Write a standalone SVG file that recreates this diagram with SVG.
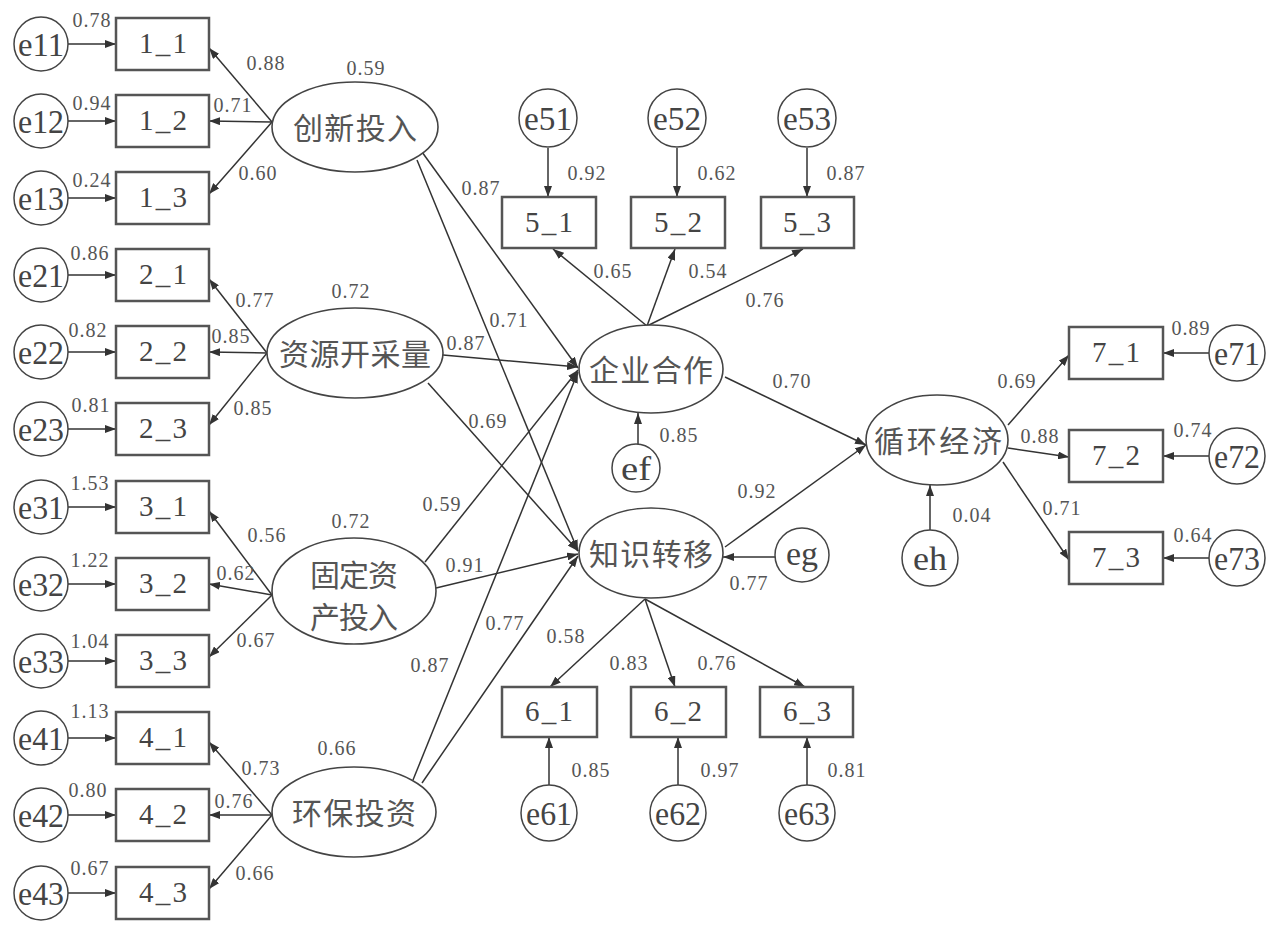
<svg xmlns="http://www.w3.org/2000/svg" width="1282" height="929" viewBox="0 0 1282 929">
<defs>
<marker id="ah" viewBox="0 0 11 8" refX="11" refY="4" markerWidth="11" markerHeight="8" markerUnits="userSpaceOnUse" orient="auto"><path d="M0,0 L11,4 L0,8 z" fill="#333"/></marker>
<style>
.ln{stroke:#333;stroke-width:1.5;fill:none;marker-end:url(#ah)}
.box{fill:#fff;stroke:#555;stroke-width:2.5}
.ell{fill:#fff;stroke:#444;stroke-width:1.6}
.cir{fill:#fff;stroke:#444;stroke-width:1.5}
.num{font-family:"Liberation Serif","Times New Roman","DejaVu Serif",serif;font-size:20px;fill:#555;text-anchor:middle;letter-spacing:1px}
.bl{font-family:"Liberation Serif","Times New Roman","DejaVu Serif",serif;font-size:29px;fill:#444;text-anchor:middle}
.el{font-family:"Liberation Serif","Times New Roman","DejaVu Serif",serif;font-size:34px;fill:#444;text-anchor:middle}
.cjk{font-family:"Noto Sans CJK SC",sans-serif;font-size:30px;fill:#555;text-anchor:middle}
</style>
</defs>
<rect width="1282" height="929" fill="#fff"/>

<g id="connectors">
<line class="ln" x1="68" y1="44" x2="116" y2="44"/>
<line class="ln" x1="68" y1="121" x2="116" y2="121"/>
<line class="ln" x1="68" y1="198" x2="116" y2="198"/>
<line class="ln" x1="68" y1="275" x2="116" y2="275"/>
<line class="ln" x1="68" y1="352" x2="116" y2="352"/>
<line class="ln" x1="68" y1="429" x2="116" y2="429"/>
<line class="ln" x1="68" y1="507" x2="116" y2="507"/>
<line class="ln" x1="68" y1="584" x2="116" y2="584"/>
<line class="ln" x1="68" y1="661" x2="116" y2="661"/>
<line class="ln" x1="68" y1="738" x2="116" y2="738"/>
<line class="ln" x1="68" y1="815" x2="116" y2="815"/>
<line class="ln" x1="68" y1="893" x2="116" y2="893"/>
<line class="ln" x1="272" y1="122" x2="209" y2="48"/>
<line class="ln" x1="272" y1="122" x2="209" y2="121"/>
<line class="ln" x1="272" y1="122" x2="209" y2="194"/>
<line class="ln" x1="267" y1="353" x2="209" y2="279"/>
<line class="ln" x1="267" y1="353" x2="209" y2="352"/>
<line class="ln" x1="267" y1="353" x2="209" y2="425"/>
<line class="ln" x1="272" y1="595" x2="209" y2="511"/>
<line class="ln" x1="272" y1="595" x2="209" y2="584"/>
<line class="ln" x1="272" y1="595" x2="209" y2="657"/>
<line class="ln" x1="272" y1="815" x2="209" y2="742"/>
<line class="ln" x1="272" y1="815" x2="209" y2="815"/>
<line class="ln" x1="272" y1="815" x2="209" y2="889"/>
<line class="ln" x1="422" y1="152" x2="578" y2="368"/>
<line class="ln" x1="417" y1="160" x2="578" y2="551"/>
<line class="ln" x1="443" y1="355" x2="578" y2="367"/>
<line class="ln" x1="428" y1="383" x2="578" y2="551"/>
<line class="ln" x1="425" y1="562" x2="578" y2="370"/>
<line class="ln" x1="436" y1="588" x2="578" y2="554"/>
<line class="ln" x1="413" y1="780" x2="578" y2="372"/>
<line class="ln" x1="422" y1="783" x2="578" y2="556"/>
<line class="ln" x1="725" y1="377" x2="866" y2="445"/>
<line class="ln" x1="725" y1="547" x2="866" y2="445"/>
<line class="ln" x1="638" y1="444" x2="638" y2="413"/>
<line class="ln" x1="775" y1="557" x2="723" y2="557"/>
<line class="ln" x1="930" y1="530" x2="930" y2="485"/>
<line class="ln" x1="548" y1="148" x2="548" y2="197"/>
<line class="ln" x1="677" y1="148" x2="677" y2="197"/>
<line class="ln" x1="807" y1="148" x2="807" y2="197"/>
<line class="ln" x1="647" y1="326" x2="553" y2="249"/>
<line class="ln" x1="647" y1="326" x2="675" y2="249"/>
<line class="ln" x1="647" y1="326" x2="803" y2="249"/>
<line class="ln" x1="645" y1="599" x2="550" y2="687"/>
<line class="ln" x1="645" y1="599" x2="675" y2="687"/>
<line class="ln" x1="645" y1="599" x2="805" y2="687"/>
<line class="ln" x1="549" y1="785" x2="549" y2="737"/>
<line class="ln" x1="678" y1="785" x2="678" y2="737"/>
<line class="ln" x1="807" y1="785" x2="807" y2="737"/>
<line class="ln" x1="1008" y1="425" x2="1069" y2="355"/>
<line class="ln" x1="1008" y1="448" x2="1069" y2="457"/>
<line class="ln" x1="1003" y1="462" x2="1069" y2="560"/>
<line class="ln" x1="1209" y1="353" x2="1163" y2="353"/>
<line class="ln" x1="1209" y1="456" x2="1163" y2="456"/>
<line class="ln" x1="1209" y1="558" x2="1163" y2="558"/>
</g>

<g id="labels">
<text class="num" x="92" y="27">0.78</text>
<text class="num" x="92" y="110">0.94</text>
<text class="num" x="92" y="187">0.24</text>
<text class="num" x="90" y="260">0.86</text>
<text class="num" x="88" y="337">0.82</text>
<text class="num" x="91" y="412">0.81</text>
<text class="num" x="90" y="490">1.53</text>
<text class="num" x="90" y="567">1.22</text>
<text class="num" x="90" y="648">1.04</text>
<text class="num" x="90" y="718">1.13</text>
<text class="num" x="88" y="797">0.80</text>
<text class="num" x="90" y="875">0.67</text>
<text class="num" x="266" y="70">0.88</text>
<text class="num" x="233" y="112">0.71</text>
<text class="num" x="258" y="180">0.60</text>
<text class="num" x="366" y="75">0.59</text>
<text class="num" x="255" y="307">0.77</text>
<text class="num" x="231" y="343">0.85</text>
<text class="num" x="253" y="415">0.85</text>
<text class="num" x="351" y="298">0.72</text>
<text class="num" x="267" y="542">0.56</text>
<text class="num" x="236" y="580">0.62</text>
<text class="num" x="256" y="647">0.67</text>
<text class="num" x="351" y="528">0.72</text>
<text class="num" x="261" y="775">0.73</text>
<text class="num" x="234" y="808">0.76</text>
<text class="num" x="255" y="880">0.66</text>
<text class="num" x="337" y="755">0.66</text>
<text class="num" x="481" y="195">0.87</text>
<text class="num" x="509" y="327">0.71</text>
<text class="num" x="466" y="350">0.87</text>
<text class="num" x="488" y="428">0.69</text>
<text class="num" x="442" y="511">0.59</text>
<text class="num" x="465" y="572">0.91</text>
<text class="num" x="430" y="672">0.87</text>
<text class="num" x="505" y="630">0.77</text>
<text class="num" x="587" y="180">0.92</text>
<text class="num" x="717" y="180">0.62</text>
<text class="num" x="846" y="180">0.87</text>
<text class="num" x="613" y="278">0.65</text>
<text class="num" x="708" y="278">0.54</text>
<text class="num" x="765" y="307">0.76</text>
<text class="num" x="679" y="442">0.85</text>
<text class="num" x="792" y="388">0.70</text>
<text class="num" x="757" y="498">0.92</text>
<text class="num" x="749" y="590">0.77</text>
<text class="num" x="566" y="643">0.58</text>
<text class="num" x="629" y="670">0.83</text>
<text class="num" x="717" y="670">0.76</text>
<text class="num" x="591" y="777">0.85</text>
<text class="num" x="720" y="777">0.97</text>
<text class="num" x="847" y="777">0.81</text>
<text class="num" x="972" y="522">0.04</text>
<text class="num" x="1017" y="388">0.69</text>
<text class="num" x="1040" y="443">0.88</text>
<text class="num" x="1062" y="515">0.71</text>
<text class="num" x="1191" y="335">0.89</text>
<text class="num" x="1193" y="437">0.74</text>
<text class="num" x="1193" y="542">0.64</text>
</g>

<g id="e11"><circle class="cir" cx="41" cy="44" r="27"/><text class="el" x="41" y="56" textLength="46" lengthAdjust="spacingAndGlyphs">e11</text></g>
<g id="e12"><circle class="cir" cx="41" cy="121" r="27"/><text class="el" x="41" y="133" textLength="46" lengthAdjust="spacingAndGlyphs">e12</text></g>
<g id="e13"><circle class="cir" cx="41" cy="198" r="27"/><text class="el" x="41" y="210" textLength="46" lengthAdjust="spacingAndGlyphs">e13</text></g>
<g id="e21"><circle class="cir" cx="41" cy="275" r="27"/><text class="el" x="41" y="287" textLength="46" lengthAdjust="spacingAndGlyphs">e21</text></g>
<g id="e22"><circle class="cir" cx="41" cy="352" r="27"/><text class="el" x="41" y="364" textLength="46" lengthAdjust="spacingAndGlyphs">e22</text></g>
<g id="e23"><circle class="cir" cx="41" cy="429" r="27"/><text class="el" x="41" y="441" textLength="46" lengthAdjust="spacingAndGlyphs">e23</text></g>
<g id="e31"><circle class="cir" cx="41" cy="507" r="27"/><text class="el" x="41" y="519" textLength="46" lengthAdjust="spacingAndGlyphs">e31</text></g>
<g id="e32"><circle class="cir" cx="41" cy="584" r="27"/><text class="el" x="41" y="596" textLength="46" lengthAdjust="spacingAndGlyphs">e32</text></g>
<g id="e33"><circle class="cir" cx="41" cy="661" r="27"/><text class="el" x="41" y="673" textLength="46" lengthAdjust="spacingAndGlyphs">e33</text></g>
<g id="e41"><circle class="cir" cx="41" cy="738" r="27"/><text class="el" x="41" y="750" textLength="46" lengthAdjust="spacingAndGlyphs">e41</text></g>
<g id="e42"><circle class="cir" cx="41" cy="815" r="27"/><text class="el" x="41" y="827" textLength="46" lengthAdjust="spacingAndGlyphs">e42</text></g>
<g id="e43"><circle class="cir" cx="41" cy="893" r="27"/><text class="el" x="41" y="905" textLength="46" lengthAdjust="spacingAndGlyphs">e43</text></g>

<g id="b1_1"><rect class="box" x="116" y="18" width="93" height="52"/><text class="bl" x="163" y="53" textLength="48">1_1</text></g>
<g id="b1_2"><rect class="box" x="116" y="95" width="93" height="52"/><text class="bl" x="163" y="130" textLength="48">1_2</text></g>
<g id="b1_3"><rect class="box" x="116" y="172" width="93" height="52"/><text class="bl" x="163" y="207" textLength="48">1_3</text></g>
<g id="b2_1"><rect class="box" x="116" y="249" width="93" height="52"/><text class="bl" x="163" y="284" textLength="48">2_1</text></g>
<g id="b2_2"><rect class="box" x="116" y="326" width="93" height="52"/><text class="bl" x="163" y="361" textLength="48">2_2</text></g>
<g id="b2_3"><rect class="box" x="116" y="403" width="93" height="52"/><text class="bl" x="163" y="438" textLength="48">2_3</text></g>
<g id="b3_1"><rect class="box" x="116" y="481" width="93" height="52"/><text class="bl" x="163" y="516" textLength="48">3_1</text></g>
<g id="b3_2"><rect class="box" x="116" y="558" width="93" height="52"/><text class="bl" x="163" y="593" textLength="48">3_2</text></g>
<g id="b3_3"><rect class="box" x="116" y="635" width="93" height="52"/><text class="bl" x="163" y="670" textLength="48">3_3</text></g>
<g id="b4_1"><rect class="box" x="116" y="712" width="93" height="52"/><text class="bl" x="163" y="747" textLength="48">4_1</text></g>
<g id="b4_2"><rect class="box" x="116" y="789" width="93" height="52"/><text class="bl" x="163" y="824" textLength="48">4_2</text></g>
<g id="b4_3"><rect class="box" x="116" y="867" width="93" height="52"/><text class="bl" x="163" y="902" textLength="48">4_3</text></g>

<g id="L1"><ellipse class="ell" cx="355" cy="127" rx="83" ry="45"/><text class="cjk" x="355" y="139" textLength="124">创新投入</text></g>
<g id="L2"><ellipse class="ell" cx="355" cy="353" rx="88" ry="45"/><text class="cjk" x="355" y="365" textLength="152">资源开采量</text></g>
<g id="L3"><ellipse class="ell" cx="354" cy="591" rx="82" ry="53"/><text class="cjk" x="354" y="586" textLength="88">固定资</text><text class="cjk" x="354" y="628" textLength="88">产投入</text></g>
<g id="L4"><ellipse class="ell" cx="354" cy="812" rx="82" ry="45"/><text class="cjk" x="354" y="824" textLength="124">环保投资</text></g>
<g id="L5"><ellipse class="ell" cx="651" cy="369" rx="72" ry="44"/><text class="cjk" x="651" y="381" textLength="124">企业合作</text></g>
<g id="L6"><ellipse class="ell" cx="651" cy="553" rx="72" ry="45"/><text class="cjk" x="651" y="565" textLength="124">知识转移</text></g>
<g id="L7"><ellipse class="ell" cx="937" cy="440" rx="71" ry="45"/><text class="cjk" x="938" y="452" textLength="128">循环经济</text></g>

<g id="ef"><circle class="cir" cx="636" cy="468" r="24"/><text class="el" x="636" y="480" textLength="30" lengthAdjust="spacingAndGlyphs">ef</text></g>
<g id="eg"><circle class="cir" cx="802" cy="555" r="27"/><text class="el" x="802" y="565" textLength="32" lengthAdjust="spacingAndGlyphs">eg</text></g>
<g id="eh"><circle class="cir" cx="930" cy="558" r="28"/><text class="el" x="930" y="570" textLength="34" lengthAdjust="spacingAndGlyphs">eh</text></g>

<g id="e51"><circle class="cir" cx="548" cy="118" r="29"/><text class="el" x="548" y="130" textLength="48" lengthAdjust="spacingAndGlyphs">e51</text></g>
<g id="e52"><circle class="cir" cx="677" cy="118" r="29"/><text class="el" x="677" y="130" textLength="48" lengthAdjust="spacingAndGlyphs">e52</text></g>
<g id="e53"><circle class="cir" cx="807" cy="118" r="29"/><text class="el" x="807" y="130" textLength="48" lengthAdjust="spacingAndGlyphs">e53</text></g>
<g id="b5_1"><rect class="box" x="502" y="197" width="94" height="51"/><text class="bl" x="549" y="232" textLength="48">5_1</text></g>
<g id="b5_2"><rect class="box" x="631" y="197" width="94" height="51"/><text class="bl" x="678" y="232" textLength="48">5_2</text></g>
<g id="b5_3"><rect class="box" x="761" y="197" width="93" height="51"/><text class="bl" x="807" y="232" textLength="48">5_3</text></g>

<g id="b6_1"><rect class="box" x="502" y="687" width="95" height="50"/><text class="bl" x="549" y="721" textLength="48">6_1</text></g>
<g id="b6_2"><rect class="box" x="631" y="687" width="95" height="50"/><text class="bl" x="678" y="721" textLength="48">6_2</text></g>
<g id="b6_3"><rect class="box" x="760" y="687" width="93" height="50"/><text class="bl" x="807" y="721" textLength="48">6_3</text></g>
<g id="e61"><circle class="cir" cx="549" cy="813" r="28"/><text class="el" x="549" y="825" textLength="46" lengthAdjust="spacingAndGlyphs">e61</text></g>
<g id="e62"><circle class="cir" cx="678" cy="813" r="28"/><text class="el" x="678" y="825" textLength="46" lengthAdjust="spacingAndGlyphs">e62</text></g>
<g id="e63"><circle class="cir" cx="807" cy="813" r="28"/><text class="el" x="807" y="825" textLength="46" lengthAdjust="spacingAndGlyphs">e63</text></g>

<g id="b7_1"><rect class="box" x="1069" y="327" width="94" height="52"/><text class="bl" x="1116" y="362" textLength="48">7_1</text></g>
<g id="b7_2"><rect class="box" x="1069" y="430" width="94" height="52"/><text class="bl" x="1116" y="465" textLength="48">7_2</text></g>
<g id="b7_3"><rect class="box" x="1069" y="532" width="94" height="52"/><text class="bl" x="1116" y="567" textLength="48">7_3</text></g>
<g id="e71"><circle class="cir" cx="1237" cy="353" r="28"/><text class="el" x="1237" y="365" textLength="46" lengthAdjust="spacingAndGlyphs">e71</text></g>
<g id="e72"><circle class="cir" cx="1237" cy="456" r="28"/><text class="el" x="1237" y="468" textLength="46" lengthAdjust="spacingAndGlyphs">e72</text></g>
<g id="e73"><circle class="cir" cx="1237" cy="558" r="28"/><text class="el" x="1237" y="570" textLength="46" lengthAdjust="spacingAndGlyphs">e73</text></g>
</svg>
